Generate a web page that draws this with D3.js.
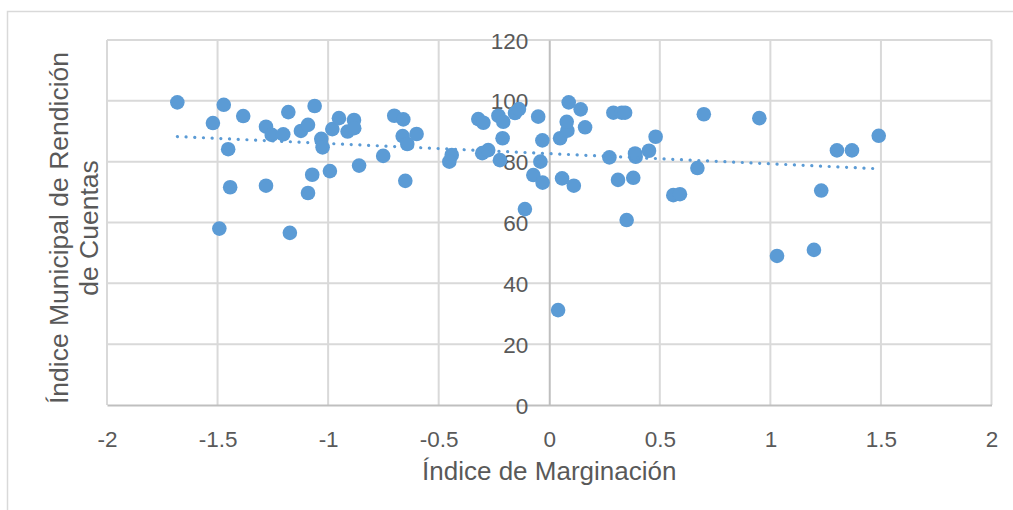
<!DOCTYPE html>
<html><head><meta charset="utf-8">
<script src="https://cdn.jsdelivr.net/npm/d3@7"></script>
<style>html,body{margin:0;padding:0;background:#fff;}svg{display:block;}</style>
</head><body>
<svg id="chart" width="1013" height="510"></svg>
<script>
// Data: Índice de Marginación (x) vs Índice Municipal de Rendición de Cuentas (y)
const xValues = [-1.682,-1.472,-1.521,-1.384,-1.452,-1.443,-1.492,-1.281,-1.255,-1.180,-1.203,-1.281,-1.173,-1.123,-1.091,-1.061,-1.031,-1.025,-1.072,-1.091,-0.992,-0.981,-0.951,-0.912,-0.883,-0.882,-0.860,-0.751,-0.701,-0.660,-0.663,-0.642,-0.600,-0.651,-0.441,-0.452,-0.321,-0.298,-0.303,-0.276,-0.230,-0.208,-0.211,-0.223,-0.155,-0.137,-0.110,-0.072,-0.050,-0.031,-0.040,-0.030,0.040,0.049,0.082,0.058,0.088,0.079,0.111,0.142,0.162,0.272,0.290,0.311,0.328,0.343,0.350,0.380,0.391,0.388,0.451,0.481,0.561,0.591,0.670,0.699,0.950,1.030,1.197,1.230,1.301,1.369,1.490];
const yValues = [99.5,98.7,92.7,95.0,84.1,71.6,58.0,91.5,88.8,96.3,89.0,72.1,56.6,90.1,92.1,98.3,87.5,84.7,75.7,69.7,76.9,90.7,94.3,89.9,93.7,91.0,78.7,81.9,95.1,93.9,88.4,85.8,89.1,73.7,82.2,80.0,94.0,92.8,82.8,83.8,95.1,93.1,87.7,80.5,96.0,97.3,64.4,75.6,94.8,87.0,80.0,73.1,31.2,87.7,90.2,74.5,99.5,93.1,72.1,97.2,91.3,81.4,96.1,74.0,96.1,96.1,60.8,74.7,81.6,82.7,83.6,88.2,69.0,69.3,77.9,95.6,94.3,49.0,51.0,70.5,83.7,83.7,88.5];
const xTicks = [-2,-1.5,-1,-0.5,0,0.5,1,1.5,2];
const yTicks = [0,20,40,60,80,100,120];
const xTitle = "Índice de Marginación";
const yTitleLines = ["Índice Municipal de Rendición","de Cuentas"];

const svg = d3.select("#chart");
const font = "'Liberation Sans', Arial, sans-serif";
const grey = "#595959";
const fmt = d => String(d); // plain hyphen-minus like the reference

// chart frame
svg.append("rect").attr("x",7.5).attr("y",11.5).attr("width",1100).attr("height",600)
  .attr("fill","none").attr("stroke","#d9d9d9").attr("stroke-width",1.5);

const x = d3.scaleLinear().domain([-2,2]).range([107,991.5]);
const y = d3.scaleLinear().domain([0,120]).range([405,40]);

// gridlines
svg.append("g").selectAll("line").data(yTicks.filter(d=>d!==0)).join("line")
  .attr("x1",x(-2)).attr("x2",x(2)).attr("y1",d=>y(d)).attr("y2",d=>y(d))
  .attr("stroke","#d9d9d9").attr("stroke-width",2);
svg.append("g").selectAll("line").data(xTicks.filter(d=>d!==0)).join("line")
  .attr("x1",d=>x(d)).attr("x2",d=>x(d)).attr("y1",y(0)).attr("y2",y(120))
  .attr("stroke","#d9d9d9").attr("stroke-width",2);

// axes lines (through origin)
const xAxis = d3.axisBottom(x).tickValues(xTicks).tickSize(0).tickFormat(fmt);
const gx = svg.append("g").attr("transform",`translate(0,${y(0)})`).call(xAxis);
gx.select(".domain").attr("stroke","#bfbfbf").attr("stroke-width",2);
gx.selectAll("text").attr("font-family",font).attr("font-size",22.5).attr("fill",grey)
  .attr("y",42).attr("dy",0);

const yAxis = d3.axisLeft(y).tickValues(yTicks).tickSize(0).tickFormat(fmt);
const gy = svg.append("g").attr("transform",`translate(${x(0)},0)`).call(yAxis);
gy.select(".domain").attr("stroke","#bfbfbf").attr("stroke-width",2);
gy.selectAll("text").attr("font-family",font).attr("font-size",22.5).attr("fill",grey)
  .attr("x",-21).attr("dy","0.36em");

// points
const pts = xValues.map((v,i)=>({x:v,y:yValues[i]}));
svg.append("g").selectAll("circle").data(pts).join("circle")
  .attr("cx",d=>x(d.x)).attr("cy",d=>y(d.y)).attr("r",7.3)
  .attr("fill","#5b9bd5");

// linear trendline (least squares)
const mx = d3.mean(xValues), my = d3.mean(yValues);
const slope = d3.sum(pts,d=>(d.x-mx)*(d.y-my))/d3.sum(pts,d=>(d.x-mx)*(d.x-mx));
const icpt = my - slope*mx;
const [x0,x1] = d3.extent(xValues);
svg.append("line")
  .attr("x1",x(x0)).attr("y1",y(icpt+slope*x0))
  .attr("x2",x(x1)).attr("y2",y(icpt+slope*x1))
  .attr("stroke","#5b9bd5").attr("stroke-width",3.2)
  .attr("stroke-linecap","round").attr("stroke-dasharray","0.1 8.6");

// titles
svg.append("text").attr("x",(x(-2)+x(2))/2).attr("y",480)
  .attr("text-anchor","middle").attr("font-family",font).attr("font-size",26)
  .attr("fill",grey).text(xTitle);
const yt = svg.append("text").attr("transform","translate(68,228) rotate(-90)")
  .attr("text-anchor","middle").attr("font-family",font).attr("font-size",26.5).attr("fill",grey);
yTitleLines.forEach((t,i)=>yt.append("tspan").attr("x",0).attr("y",i*30).text(t));
</script>
</body></html>
